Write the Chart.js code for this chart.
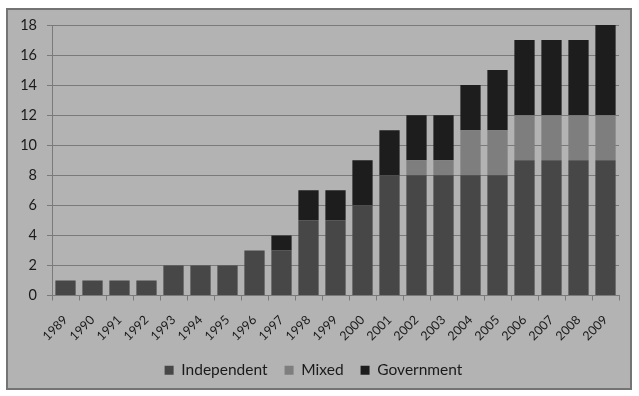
<!DOCTYPE html>
<html>
<head>
<meta charset="utf-8">
<script src="https://cdn.jsdelivr.net/npm/chart.js@4.4.1/dist/chart.umd.min.js"></script>
<style>
  html, body { margin: 0; padding: 0; background: #ffffff; }
  #frame {
    position: absolute; left: 6px; top: 8px;
    width: 622px; height: 378px;
    background: #b3b3b3; border: 2px solid #747474;
  }
  #frame canvas { display: block; }
</style>
</head>
<body>
<div id="frame"><canvas id="chart" width="622" height="378"></canvas></div>
<script>
// годы и значения по каждой категории
const years = ['1989','1990','1991','1992','1993','1994','1995','1996','1997','1998','1999',
               '2000','2001','2002','2003','2004','2005','2006','2007','2008','2009'];
const independent = [1,1,1,1,2,2,2,3,3,5,5,6,8,8,8,8,8,9,9,9,9];
const mixed       = [0,0,0,0,0,0,0,0,0,0,0,0,0,1,1,3,3,3,3,3,3];
const government  = [0,0,0,0,0,0,0,0,1,2,2,3,3,3,3,3,4,5,5,5,6];
const yTicks = [0,2,4,6,8,10,12,14,16,18];

const fontFamily = 'Lato, "Open Sans", sans-serif';

new Chart(document.getElementById('chart'), {
    type: 'bar',
    data: {
        labels: years,
        datasets: [
            { label: 'Independent', data: independent, backgroundColor: '#474747' },
            { label: 'Mixed', data: mixed, backgroundColor: '#7e7e7e' },
            { label: 'Government', data: government, backgroundColor: '#1d1d1d' }
        ]
    },
    options: {
        responsive: false,
        animation: false,
        layout: { padding: { left: 0, right: 11, top: 0, bottom: 0 } },
        datasets: { bar: { categoryPercentage: 1, barPercentage: 0.75 } },
        plugins: {
            legend: {
                position: 'bottom',
                labels: {
                    boxWidth: 9, boxHeight: 9, padding: 17,
                    color: '#1a1a1a', font: { family: fontFamily, size: 15.5 }
                }
            },
            tooltip: { enabled: false }
        },
        scales: {
            x: {
                stacked: true,
                // фиксируем высоту оси под повёрнутые подписи
                afterFit: axis => { axis.height = 50; },
                grid: { drawOnChartArea: false, color: '#7a7a7a', tickLength: 5, offset: true },
                border: { color: '#7a7a7a' },
                ticks: {
                    color: '#1a1a1a', maxRotation: 45, minRotation: 45, autoSkip: false,
                    padding: 12,
                    font: { family: fontFamily, size: 12.5 }
                }
            },
            y: {
                stacked: true,
                min: 0, max: 18,
                afterBuildTicks: axis => { axis.ticks = yTicks.map(v => ({ value: v })); },
                afterFit: axis => { axis.width = 44; axis.paddingTop = 15; },
                grid: { color: '#7a7a7a', tickLength: 5 },
                border: { color: '#7a7a7a' },
                ticks: {
                    color: '#1a1a1a', padding: 10,
                    font: { family: fontFamily, size: 14.5 }
                }
            }
        }
    }
});
</script>
</body>
</html>
